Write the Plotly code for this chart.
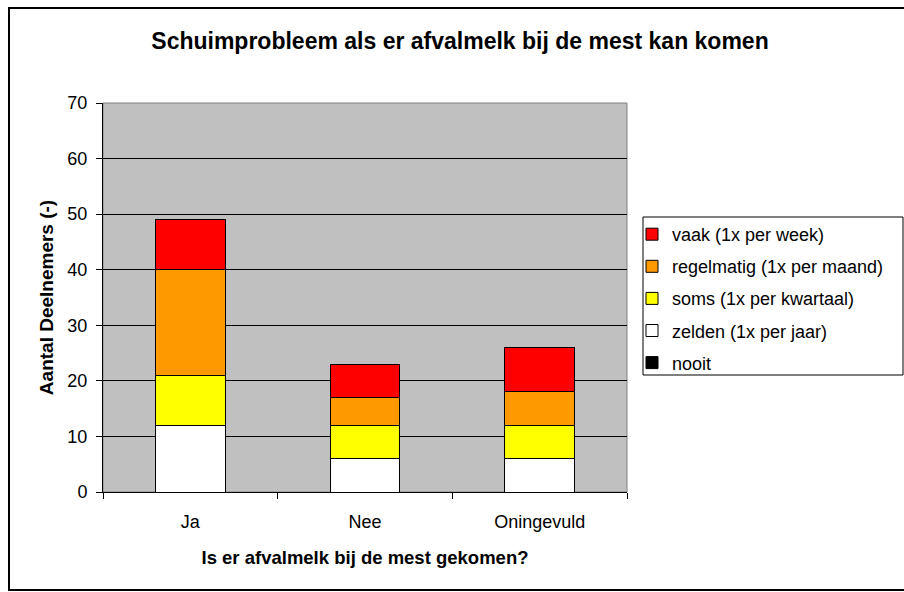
import plotly.graph_objects as go

categories = ["Ja", "Nee", "Oningevuld"]
series_names = ["nooit", "zelden (1x per jaar)", "soms (1x per kwartaal)",
                "regelmatig (1x per maand)", "vaak (1x per week)"]
nooit = [0, 0, 0]
zelden = [12, 6, 6]
soms = [9, 6, 6]
regelmatig = [19, 5, 6]
vaak = [9, 6, 8]
colors = ["#000000", "#FFFFFF", "#FFFF00", "#FF9900", "#FF0000"]

values = [nooit, zelden, soms, regelmatig, vaak]

fig = go.Figure()
n = len(series_names)
for i, (name, vals, col) in enumerate(zip(series_names, values, colors)):
    fig.add_trace(go.Bar(
        x=categories, y=vals, name=name, legendgroup=name, legendrank=n - i,
        marker=dict(color=col, line=dict(color="#000000", width=1)),
    ))

W, H = 904, 592
L, R, T, B = 103, 627, 103, 492
FONT = "Arial, Liberation Sans, sans-serif"

def px_x(p):
    return (p - L) / (R - L)

def px_y(p):
    return (B - p) / (B - T)

fig.update_layout(
    width=W, height=H,
    barmode="stack", bargap=0.6,
    paper_bgcolor="white", plot_bgcolor="#C0C0C0",
    margin=dict(l=L, r=W - R, t=T, b=H - B, pad=0),
    font=dict(family=FONT, size=18, color="#000000"),
    title=dict(text="<b>Schuimprobleem als er afvalmelk bij de mest kan komen</b>",
               x=460 / W, xanchor="center", xref="container",
               y=1 - 41 / H, yanchor="middle", yref="container",
               font=dict(size=23)),
    showlegend=True,
    legend=dict(traceorder="grouped", x=px_x(632), xanchor="left",
                y=px_y(216), yanchor="top",
                borderwidth=0, bgcolor="rgba(0,0,0,0)",
                tracegroupgap=5.7, font=dict(size=18)),
    xaxis=dict(showline=True, linecolor="#000000", linewidth=1,
               ticks="outside", tickson="boundaries", ticklen=6, tickcolor="#000000",
               tickfont=dict(size=18), ticklabelstandoff=13,
               title=dict(text="<b>Is er afvalmelk bij de mest gekomen?</b>",
                          font=dict(size=18.5), standoff=20),
               showgrid=False),
    yaxis=dict(range=[0, 70], dtick=10, showline=True, linecolor="#000000", linewidth=1,
               ticks="outside", ticklen=6, tickcolor="#000000", ticklabelstandoff=5,
               tickfont=dict(size=18),
               showgrid=True, gridcolor="#000000", gridwidth=1, zeroline=False,
               title=dict(text="<b>Aantal Deelnemers (-)</b>", font=dict(size=19), standoff=8)),
    shapes=[
        dict(type="rect", xref="paper", yref="paper", x0=0, x1=1, y0=0, y1=1,
             line=dict(color="#808080", width=1), layer="below"),
        dict(type="rect", xref="paper", yref="paper",
             x0=px_x(9), x1=px_x(960), y0=px_y(590), y1=px_y(8),
             line=dict(color="#000000", width=2), layer="below"),
        dict(type="rect", xref="paper", yref="paper",
             x0=px_x(643), x1=px_x(903), y0=px_y(375), y1=px_y(217),
             line=dict(color="#000000", width=1), fillcolor="white", layer="below"),
    ],
)

fig.write_html("out.html", config={"displayModeBar": False},
               post_script="document.body.style.margin='0';")
